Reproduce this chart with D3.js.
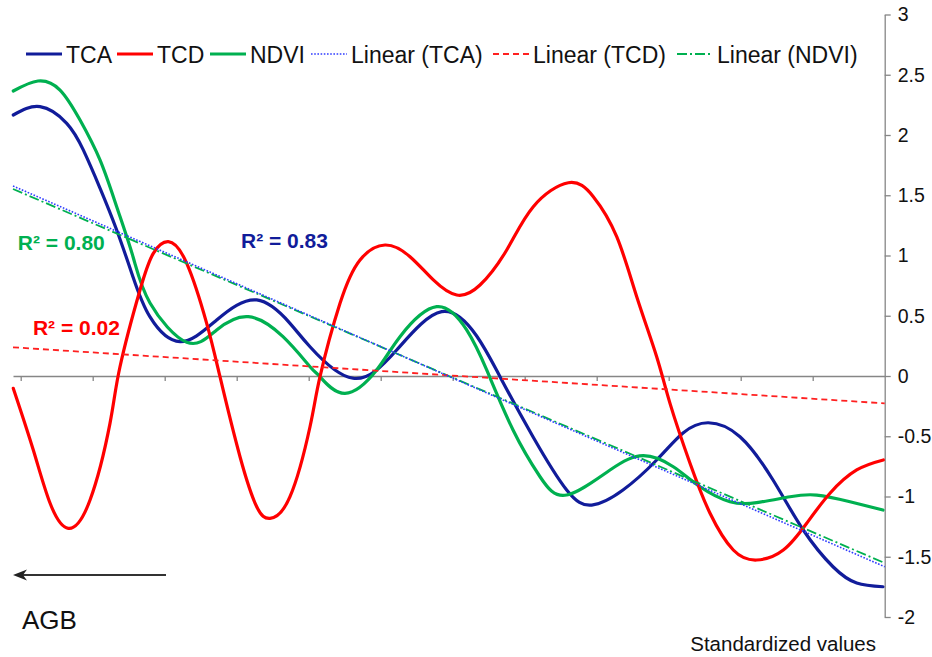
<!DOCTYPE html>
<html>
<head>
<meta charset="utf-8">
<script src="https://cdn.jsdelivr.net/npm/d3@7/dist/d3.min.js"></script>
<style>
  html, body { margin: 0; padding: 0; background: #fff; }
  svg { display: block; }
  text { font-family: "Liberation Sans", Arial, sans-serif; }
</style>
</head>
<body>
<svg id="chart" width="932" height="657"></svg>
<script>
// ---------- DATA (x in category units, y in standardized values) ----------
const seriesNames = ["TCA", "TCD", "NDVI"];
const trendNames = ["Linear (TCA)", "Linear (TCD)", "Linear (NDVI)"];
const yTickValues = [3, 2.5, 2, 1.5, 1, 0.5, 0, -0.5, -1, -1.5, -2];
const xTickValues = [0, 1, 2, 3, 4, 5, 6, 7, 8, 9, 10, 11];

const tcaPoints = [
  [-0.103, 2.166], [0.268, 2.235], [0.639, 2.097], [0.869, 1.876], [1.101, 1.560],
  [1.333, 1.212], [1.560, 0.822], [1.796, 0.490], [2.213, 0.285], [2.722, 0.465],
  [3.278, 0.631], [3.740, 0.437], [4.018, 0.243], [4.615, -0.019], [5.222, 0.216],
  [5.847, 0.534], [6.333, 0.332], [6.657, -0.006], [7.115, -0.504],
  [7.583, -0.946], [7.931, -1.071], [8.365, -0.946], [8.833, -0.697], [9.199, -0.473],
  [9.550, -0.388], [9.990, -0.504], [10.449, -0.863], [10.869, -1.278], [11.282, -1.583],
  [11.611, -1.718], [11.976, -1.749]
];
const tcdPoints = [
  [-0.103, -0.102], [0.175, -0.614], [0.407, -1.054], [0.661, -1.264], [0.963, -1.029],
  [1.240, -0.393], [1.379, 0.077], [1.657, 0.714], [1.842, 1.018], [2.050, 1.115],
  [2.306, 0.935], [2.583, 0.437], [2.768, -0.006], [3.046, -0.670], [3.278, -1.085],
  [3.463, -1.181], [3.740, -1.002], [4.018, -0.421], [4.157, -0.006], [4.435, 0.603],
  [4.713, 0.963], [5.060, 1.087], [5.407, 0.990], [5.731, 0.797], [6.056, 0.672],
  [6.379, 0.755], [6.750, 1.046], [7.119, 1.405], [7.606, 1.604], [7.953, 1.488],
  [8.278, 1.156], [8.556, 0.658], [8.833, 0.160], [9.018, -0.227], [9.296, -0.724],
  [9.574, -1.139], [9.897, -1.444], [10.222, -1.527], [10.592, -1.444], [10.917, -1.222],
  [11.240, -0.973], [11.611, -0.780], [11.981, -0.697]
];
const ndviPoints = [
  [-0.103, 2.365], [0.240, 2.448], [0.546, 2.373], [0.824, 2.124], [1.101, 1.793],
  [1.333, 1.405], [1.560, 0.990], [1.796, 0.606], [2.306, 0.280], [2.722, 0.382],
  [3.161, 0.492], [3.643, 0.326], [4.018, 0.077], [4.157, -0.006], [4.504, -0.144],
  [4.944, 0.050], [5.268, 0.326], [5.778, 0.575], [6.194, 0.382], [6.472, 0.050],
  [6.838, -0.448], [7.213, -0.836], [7.583, -0.988], [8.185, -0.780], [8.647, -0.661],
  [9.064, -0.753], [9.435, -0.919], [9.851, -1.043], [10.222, -1.051], [10.685, -1.002],
  [11.056, -0.988], [11.518, -1.043], [11.976, -1.112]
];
// linear trend lines: value at left edge and right edge of the plot
const tcaTrend = [1.577, -1.583];
const tcdTrend = [0.238, -0.227];
const ndviTrend = [1.552, -1.552];
const rSquaredLabels = ["R² = 0.83", "R² = 0.02", "R² = 0.80"];

// ---------- STYLES ----------
const colors = { TCA: "#111c9a", TCD: "#ff0000", NDVI: "#00b050" };
const trendColors = { TCA: "#2f3cff", TCD: "#ff2020", NDVI: "#00b050" };
const trendDash = { TCA: "1.6,1.6", TCD: "6,4", NDVI: "10,3,2,3" };

const svg = d3.select("#chart");
const xDomain = [-0.107, 12];
const x = d3.scaleLinear().domain(xDomain).range([13, 884.7]);
const y = d3.scaleLinear().domain([-2, 3]).range([617, 14.5]);

// ---------- AXES ----------
const axisColor = "#868686";
const xAxis = svg.append("g")
  .attr("transform", `translate(0,${y(0)})`)
  .call(d3.axisBottom(x).tickValues(xTickValues).tickSize(5).tickSizeOuter(0).tickFormat(""));
xAxis.select(".domain").attr("stroke", axisColor).attr("stroke-width", 1.3);
xAxis.selectAll(".tick line").attr("stroke", axisColor).attr("stroke-width", 1.3);

const yAxis = svg.append("g")
  .attr("transform", `translate(${x(xDomain[1])},0)`)
  .call(d3.axisRight(y).tickValues(yTickValues).tickSize(6).tickSizeOuter(0).tickPadding(7)
    .tickFormat(d => String(d)));
yAxis.select(".domain").attr("stroke", axisColor).attr("stroke-width", 1.3);
yAxis.selectAll(".tick line").attr("stroke", axisColor).attr("stroke-width", 1.3);
yAxis.selectAll(".tick text")
  .attr("fill", "#111").style("font-size", "19.5px")
  .style("font-family", "'Liberation Sans', Arial, sans-serif");

// ---------- SERIES ----------
const line = d3.line().x(d => x(d[0])).y(d => y(d[1])).curve(d3.curveNatural);
const seriesData = { TCA: tcaPoints, NDVI: ndviPoints, TCD: tcdPoints };
["TCA", "NDVI", "TCD"].forEach(name => {
  svg.append("path").datum(seriesData[name])
    .attr("d", line).attr("fill", "none")
    .attr("stroke", colors[name]).attr("stroke-width", 3.2)
    .attr("stroke-linejoin", "round").attr("stroke-linecap", "round");
});

// ---------- TREND LINES ----------
const trendData = { TCA: tcaTrend, TCD: tcdTrend, NDVI: ndviTrend };
const straight = d3.line().x(d => x(d[0])).y(d => y(d[1]));
["NDVI", "TCD", "TCA"].forEach(name => {
  const t = trendData[name];
  svg.append("path").datum([[xDomain[0], t[0]], [xDomain[1], t[1]]])
    .attr("d", straight).attr("fill", "none")
    .attr("stroke", trendColors[name])
    .attr("stroke-width", name === "TCA" ? 1.6 : 1.8)
    .attr("stroke-dasharray", trendDash[name]);
});

// ---------- R² LABELS ----------
const rLabelPos = [
  { text: rSquaredLabels[0], color: colors.TCA, u: 3.06, v: 1.06 },
  { text: rSquaredLabels[1], color: colors.TCD, u: 0.17, v: 0.34 },
  { text: rSquaredLabels[2], color: colors.NDVI, u: -0.04, v: 1.045 }
];
svg.selectAll("text.r2").data(rLabelPos).join("text")
  .attr("class", "r2")
  .attr("x", d => x(d.u)).attr("y", d => y(d.v))
  .attr("fill", d => d.color)
  .style("font-size", "21px").style("font-weight", "bold")
  .text(d => d.text);

// ---------- LEGEND ----------
const legendItems = [
  { label: seriesNames[0], color: colors.TCA, dash: null, w: 3.2, at: 26 },
  { label: seriesNames[1], color: colors.TCD, dash: null, w: 3.2, at: 117 },
  { label: seriesNames[2], color: colors.NDVI, dash: null, w: 3.2, at: 210 },
  { label: trendNames[0], color: trendColors.TCA, dash: trendDash.TCA, w: 1.6, at: 311 },
  { label: trendNames[1], color: trendColors.TCD, dash: trendDash.TCD, w: 1.8, at: 493 },
  { label: trendNames[2], color: trendColors.NDVI, dash: trendDash.NDVI, w: 1.8, at: 677 }
];
const legend = svg.append("g");
const ly = 54;
legendItems.forEach(it => {
  legend.append("line")
    .attr("x1", it.at).attr("x2", it.at + 36).attr("y1", ly).attr("y2", ly)
    .attr("stroke", it.color).attr("stroke-width", it.w)
    .attr("stroke-dasharray", it.dash);
  legend.append("text")
    .attr("x", it.at + 40).attr("y", ly + 9)
    .attr("fill", "#111").style("font-size", "23px")
    .text(it.label);
});

// ---------- ANNOTATIONS ----------
svg.append("line")
  .attr("x1", 166).attr("x2", 20).attr("y1", 575).attr("y2", 575)
  .attr("stroke", "#333").attr("stroke-width", 2);
svg.append("path")
  .attr("d", "M13,575 L27,569.5 L23,575 L27,580.5 Z")
  .attr("fill", "#222");
svg.append("text").attr("x", 22).attr("y", 629)
  .attr("fill", "#111").style("font-size", "26px").text("AGB");
svg.append("text").attr("x", 876).attr("y", 651)
  .attr("text-anchor", "end")
  .attr("fill", "#111").style("font-size", "20.5px").text("Standardized values");
</script>
</body>
</html>
